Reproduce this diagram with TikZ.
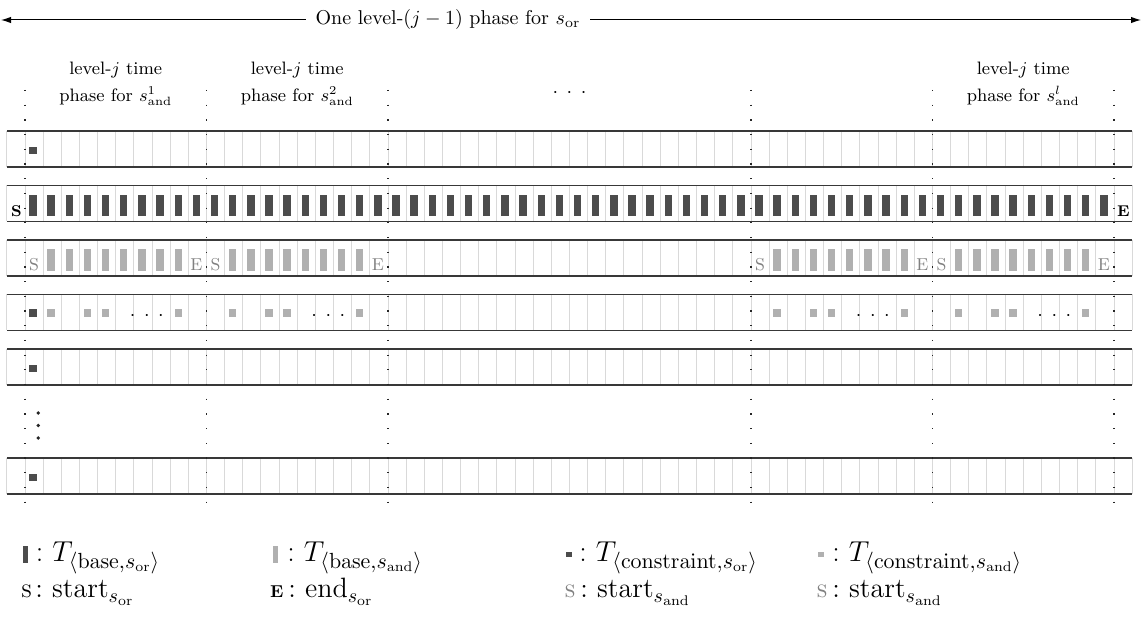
\documentclass[tikz,border=0pt]{standalone}
\usetikzlibrary{arrows.meta}
\definecolor{darkfill}{gray}{0.30}
\definecolor{lightfill}{gray}{0.69}
\definecolor{cellgray}{gray}{0.85}
\definecolor{rowgray}{gray}{0.22}
\definecolor{andtext}{gray}{0.50}
\newcommand{\orS}{{\fontsize{7.8}{9}\selectfont\bfseries S}}
\newcommand{\orE}{{\fontsize{7.8}{9}\selectfont\bfseries E}}
\newcommand{\andS}{{\fontsize{8.6}{10}\selectfont S}}
\newcommand{\andE}{{\fontsize{8.6}{10}\selectfont E}}
\newcommand{\threedots}{${\cdot}\hspace{4.3pt}{\cdot}\hspace{4.3pt}{\cdot}$}
\begin{document}
\begin{tikzpicture}[x=0.5pt,y=-0.5pt,
  cellsep/.style={draw=cellgray,line width=0.5pt},
  rowedge/.style={draw=rowgray,line width=0.6pt},
  phasesep/.style={draw=black!85,line width=0.6pt,dash pattern=on 0.6pt off 6.75pt},
  basebar/.style={fill=darkfill},
  andbar/.style={fill=lightfill},
  hdr/.style={font=\small,anchor=base,inner sep=0pt},
  lbl/.style={anchor=base,inner sep=0pt},
  vdot/.style={fill=black!85,circle,inner sep=0pt,minimum size=1.9pt},
  legA/.style={anchor=base west,inner sep=0pt,font=\fontsize{15}{18}\selectfont},
  legB/.style={anchor=base west,inner sep=0pt,font=\fontsize{14}{17}\selectfont},
  legsym/.style={anchor=base east,inner sep=0pt}
]
\useasboundingbox (0,0) rectangle (1142,630);
% title arrow
\coordinate (al) at (1,20);
\coordinate (ar) at (1141,20);
\draw[line width=0.5pt,{Latex[length=5pt,width=3.2pt]}-{Latex[length=5pt,width=3.2pt]}] (al) -- (ar);
\node[fill=white,inner xsep=5pt,inner ysep=2pt] (title) at (448,20) {One level-$(j-1)$ phase for $s_{\mathrm{or}}$};
% header
\foreach \p/\i in {0/1,1/2,5/l} {
  \node[hdr] (h1-\p) at ({25+181.5*(\p+0.5)},75) {level-$j$ time};
  \node[hdr] (h2-\p) at ({25+181.5*(\p+0.5)},102) {phase for $s^{\i}_{\mathrm{and}}$};
}
\node[lbl] (hdots) at (569.5,98) {\threedots};
% rows
\foreach \t in {131,185.5,240,294.5,349,458} {
  \foreach \k in {0,...,62} \draw[cellsep] ({6.85+18.15*\k},\t) -- ++(0,36);
  \draw[rowedge] (6.85,\t) -- (1132.15,\t);
  \draw[rowedge] (6.85,\t+36) -- (1132.15,\t+36);
}
% rows 1,5,6: constraint s_or squares
\foreach \t in {131,349,458}
  \fill[basebar] ({6.85+18.15*1+4.3},\t+15.7) rectangle ++(7.4,7.5);
% row 2: base s_or bars
\foreach \k in {1,...,60}
  \fill[basebar] ({6.85+18.15*\k+4.3},195) rectangle ++(7.4,21.5);
\node[lbl] (r2s) at (16.5,216.5) {\orS};
\node[lbl] (r2e) at (1123.5,216.5) {\orE};
% row 3: base s_and bars
\foreach \p in {0,1,4,5} {
  \foreach \c in {2,...,9}
    \fill[andbar] ({25+181.5*\p+18.15*(\c-1)+4.3},249.5) rectangle ++(7.4,21.5);
  \node[lbl,text=andtext] (r3s-\p) at ({25+181.5*\p+18.15*0.5},271) {\andS};
  \node[lbl,text=andtext] (r3e-\p) at ({25+181.5*\p+18.15*9.5-1},271) {\andE};
}
% row 4: constraint squares
\fill[basebar] ({25+4.3},309.5) rectangle ++(7.4,7.5);
\foreach \p in {0,1,4,5} {
  \foreach \c in {2,4,5,9}
    \fill[andbar] ({25+181.5*\p+18.15*(\c-1)+4.3},309.5) rectangle ++(7.4,7.5);
  \node[lbl] (r4d-\p) at ({25+181.5*\p+121.8},321) {\threedots};
}
% vertical dots
\node[vdot] (vd1) at (38.3,413) {};
\node[vdot] (vd2) at (38.3,425.5) {};
\node[vdot] (vd3) at (38.3,438) {};
% phase separators
\foreach \p in {0,1,2,4,5,6}
  \draw[phasesep] ({25+181.5*\p},90) -- ({25+181.5*\p},507);
% legend, first line
\fill[darkfill] (22.5,546) rectangle (28,563);
\node[legA] (L1) at (35.5,562) {:\ $T_{\langle\mathrm{base},s_{\mathrm{or}}\rangle}$};
\fill[lightfill] (272.5,546) rectangle (278,563);
\node[legA] (L2) at (287,562) {:\ $T_{\langle\mathrm{base},s_{\mathrm{and}}\rangle}$};
\fill[darkfill] (566,552) rectangle (571.5,557.5);
\node[legA] (L3) at (579,562) {:\ $T_{\langle\mathrm{constraint},s_{\mathrm{or}}\rangle}$};
\fill[lightfill] (818,552) rectangle (823.5,557.5);
\node[legA] (L4) at (832,562) {:\ $T_{\langle\mathrm{constraint},s_{\mathrm{and}}\rangle}$};
% legend, second line
\node[legsym,font=\fontsize{12}{14}\selectfont\scshape] (S1) at (32.5,598) {s};
\node[legB] (M1) at (35,598) {:\ start$_{s_{\mathrm{or}}}$};
\node[legsym,font=\fontsize{8.6}{10}\selectfont\bfseries] (S2) at (284,598) {E};
\node[legB] (M2) at (288,598) {:\ end$_{s_{\mathrm{or}}}$};
\node[legsym,text=andtext,font=\fontsize{12}{14}\selectfont\scshape] (S3) at (576,598) {s};
\node[legB] (M3) at (580,598) {:\ start$_{s_{\mathrm{and}}}$};
\node[legsym,text=andtext,font=\fontsize{12}{14}\selectfont\scshape] (S4) at (828,598) {s};
\node[legB] (M4) at (832,598) {:\ start$_{s_{\mathrm{and}}}$};
\end{tikzpicture}
\end{document}
